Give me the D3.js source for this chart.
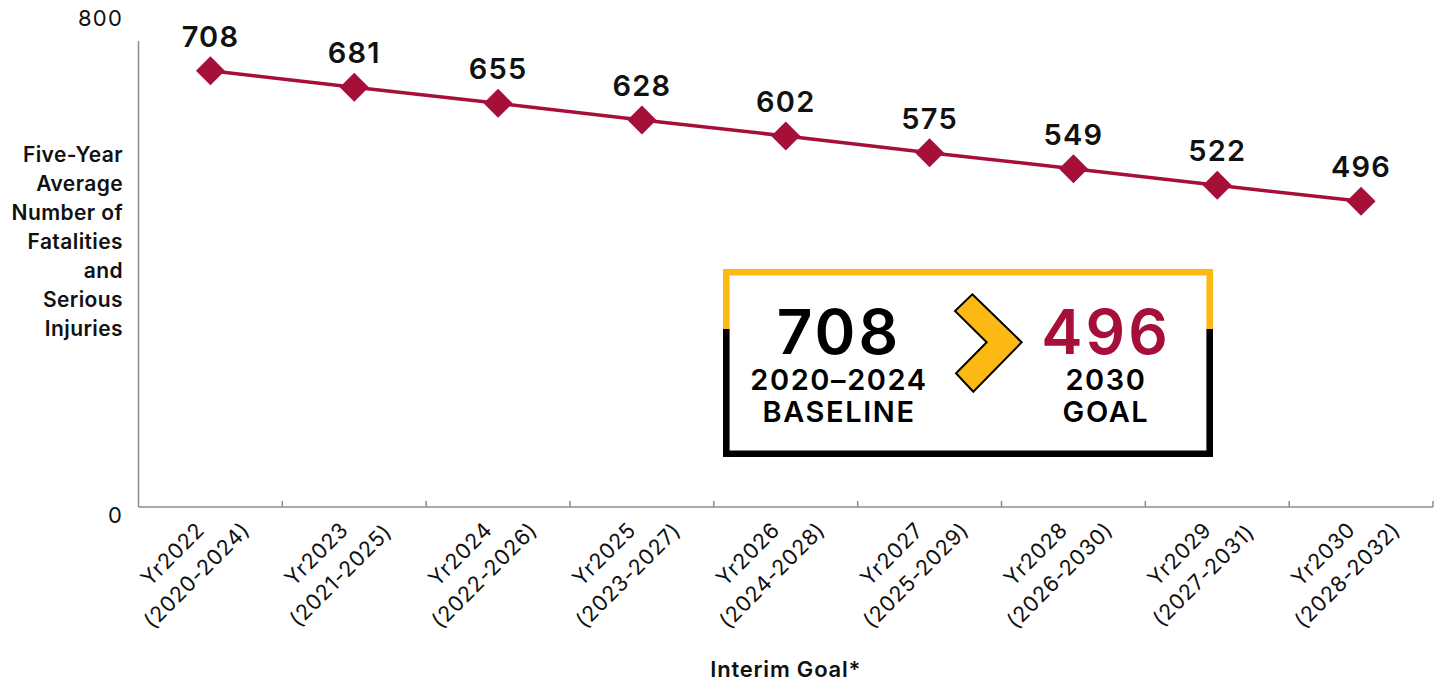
<!DOCTYPE html>
<html>
<head>
<meta charset="utf-8">
<script src="https://cdn.jsdelivr.net/npm/d3@7"></script>
<style>
  html, body { margin: 0; padding: 0; background: #fff; }
  svg { display: block; font-family: Inter, "Noto Sans", sans-serif; }
</style>
</head>
<body>
<svg id="chart" width="1441" height="685"></svg>
<script>
// ---- Data ----
const categories = [
  ["Yr2022", "(2020-2024)"],
  ["Yr2023", "(2021-2025)"],
  ["Yr2024", "(2022-2026)"],
  ["Yr2025", "(2023-2027)"],
  ["Yr2026", "(2024-2028)"],
  ["Yr2027", "(2025-2029)"],
  ["Yr2028", "(2026-2030)"],
  ["Yr2029", "(2027-2031)"],
  ["Yr2030", "(2028-2032)"]
];
const values = [708, 681, 655, 628, 602, 575, 549, 522, 496];
const yTicks = [0, 800];
const yTitleLines = ["Five-Year", "Average", "Number of", "Fatalities", "and", "Serious", "Injuries"];
const xTitle = "Interim Goal*";
const baseline = { value: "708", line1: "2020\u20132024", line2: "BASELINE" };
const goal = { value: "496", line1: "2030", line2: "GOAL" };

// ---- Layout ----
const RED = "#A50F38", GOLD = "#FDB913", AXIS = "#8c8c8c";
const margin = { left: 138.5, right: 1433, top: 14, bottom: 507 };
const svg = d3.select("#chart");

const x = d3.scaleBand().domain(d3.range(categories.length)).range([margin.left, margin.right]).padding(0);
const y = d3.scaleLinear().domain([0, 800]).range([margin.bottom, margin.top]);

// Y axis line
svg.append("line").attr("x1", margin.left).attr("x2", margin.left)
  .attr("y1", y(800) + 27).attr("y2", y(0))
  .attr("stroke", AXIS).attr("stroke-width", 1.5);

// X axis line with inward ticks at band boundaries
svg.append("line").attr("x1", margin.left).attr("x2", margin.right)
  .attr("y1", y(0)).attr("y2", y(0))
  .attr("stroke", AXIS).attr("stroke-width", 1.5);
const bounds = d3.range(categories.length + 1).map(i => i < categories.length ? x(i) : x.range()[1]);
svg.append("g").selectAll("line").data(bounds.slice(1)).join("line")
  .attr("x1", d => d).attr("x2", d => d)
  .attr("y1", y(0) - 6).attr("y2", y(0))
  .attr("stroke", AXIS).attr("stroke-width", 1.5);

// Y tick labels
svg.append("g").selectAll("text").data(yTicks).join("text")
  .attr("x", 123)
  .attr("y", d => d === 0 ? y(d) + 16 : y(d) + 12)
  .attr("text-anchor", "end")
  .attr("font-size", 22).attr("font-weight", 400).attr("letter-spacing", 1.2).attr("fill", "#111")
  .text(d => d);

// Y title
svg.append("text").attr("text-anchor", "end").attr("font-size", 21).attr("font-weight", 600)
  .attr("letter-spacing", 0.4).attr("fill", "#111")
  .selectAll("tspan").data(yTitleLines).join("tspan")
  .attr("x", 123).attr("y", (d, i) => 162 + i * 29).text(d => d);

// X tick labels (rotated)
const xl = svg.append("g").selectAll("g").data(categories).join("g")
  .attr("transform", (d, i) => `translate(${x(i) + x.bandwidth() / 2},${y(0)}) rotate(-45)`);
xl.append("text").attr("text-anchor", "middle").attr("font-size", 21.5).attr("font-weight", 400)
  .attr("letter-spacing", 0.7).attr("fill", "#111")
  .selectAll("tspan").data(d => d).join("tspan")
  .attr("x", (d, i) => i === 0 ? -60 : -58)
  .attr("y", (d, i) => 14 + i * 32)
  .text(d => d);

// X title
svg.append("text").attr("x", (margin.left + margin.right) / 2).attr("y", 677)
  .attr("text-anchor", "middle").attr("font-size", 22).attr("font-weight", 600)
  .attr("letter-spacing", 0.8).attr("fill", "#111")
  .text(xTitle);

// Line
const cx = i => x(i) + x.bandwidth() / 2;
svg.append("path").datum(values)
  .attr("d", d3.line().x((d, i) => cx(i)).y(d => y(d)))
  .attr("fill", "none").attr("stroke", RED).attr("stroke-width", 3.5);

// Diamond markers
svg.append("g").selectAll("path").data(values).join("path")
  .attr("d", d3.symbol().type(d3.symbolSquare).size(420))
  .attr("transform", (d, i) => `translate(${cx(i)},${y(d)}) rotate(45)`)
  .attr("fill", RED);

// Data labels
svg.append("g").selectAll("text").data(values).join("text")
  .attr("x", (d, i) => cx(i)).attr("y", d => y(d) - 24)
  .attr("text-anchor", "middle").attr("font-size", 29).attr("font-weight", 600)
  .attr("letter-spacing", 1.2).attr("fill", "#111")
  .text(d => d);

// ---- Callout box ----
const bx = 723, by = 269, bw = 490, bh = 188, sw = 6.6, split = 329;
const box = svg.append("g");
box.append("rect").attr("x", bx).attr("y", by).attr("width", bw).attr("height", bh).attr("fill", "#fff");
// yellow top portion
box.append("path")
  .attr("d", `M${bx + sw/2},${split} V${by + sw/2} H${bx + bw - sw/2} V${split}`)
  .attr("fill", "none").attr("stroke", GOLD).attr("stroke-width", sw);
// black lower portion
box.append("path")
  .attr("d", `M${bx + sw/2},${split} V${by + bh - sw/2} H${bx + bw - sw/2} V${split}`)
  .attr("fill", "none").attr("stroke", "#000").attr("stroke-width", sw);

// Chevron
box.append("path")
  .attr("d", "M972.3,294.3 L1021.7,342.3 L973.3,391.7 L956,373.3 L986.7,342.3 L955,311 Z")
  .attr("fill", GOLD).attr("stroke", "#000").attr("stroke-width", 2).attr("stroke-linejoin", "miter");

function block(cxp, info, color) {
  box.append("text").attr("x", cxp).attr("y", 354).attr("text-anchor", "middle")
    .attr("font-size", 62).attr("font-weight", 600).attr("letter-spacing", 3).attr("fill", color).text(info.value);
  box.append("text").attr("x", cxp).attr("y", 390).attr("text-anchor", "middle")
    .attr("font-size", 29).attr("font-weight", 600).attr("letter-spacing", 1.6).attr("fill", "#000").text(info.line1);
  box.append("text").attr("x", cxp).attr("y", 422).attr("text-anchor", "middle")
    .attr("font-size", 29).attr("font-weight", 600).attr("letter-spacing", 1.6).attr("fill", "#000").text(info.line2);
}
block(839, baseline, "#000");
block(1106, goal, RED);
</script>
</body>
</html>
